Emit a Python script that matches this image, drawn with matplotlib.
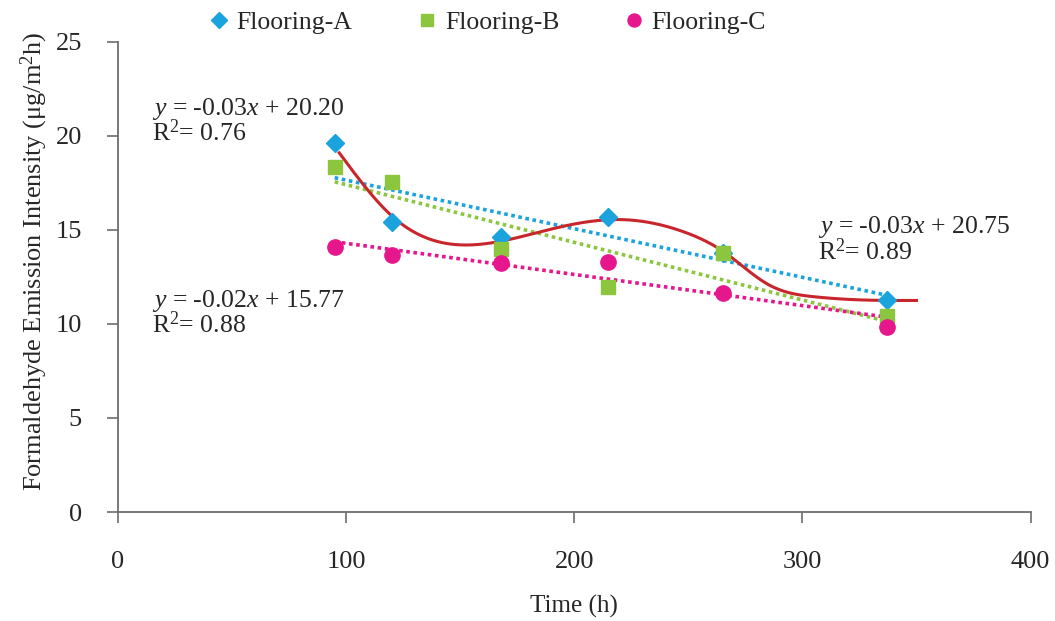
import numpy as np
import matplotlib
matplotlib.use("Agg")
import matplotlib.pyplot as plt

plt.rcParams['font.family'] = ['Liberation Serif', 'DejaVu Serif']
plt.rcParams['mathtext.fontset'] = 'custom'
plt.rcParams['mathtext.rm'] = 'Liberation Serif'
plt.rcParams['mathtext.it'] = 'Liberation Serif:italic'

# ---- data ----
time_h = [95, 120, 168, 215, 265, 337]
flooring_a = [19.6, 15.4, 14.6, 15.7, 13.8, 11.3]
flooring_b = [18.35, 17.55, 14.0, 11.95, 13.8, 10.4]
flooring_c = [14.1, 13.65, 13.25, 13.3, 11.65, 9.85]
series_names = ['Flooring-A', 'Flooring-B', 'Flooring-C']
# points (Flooring-A)
curve_x = [97, 120, 153, 190, 221, 248, 266, 285, 305, 328, 350]
curve_y = [19.1, 15.75, 14.2, 15.05, 15.55, 14.9, 13.8, 12.1, 11.45, 11.27, 11.25]
eq_labels = [r'$\mathit{y}$ = -0.03$\mathit{x}$ + 20.20' + '\n' + r'R$^2$= 0.76',
             r'$\mathit{y}$ = -0.02$\mathit{x}$ + 15.77' + '\n' + r'R$^2$= 0.88',
             r'$\mathit{y}$ = -0.03$\mathit{x}$ + 20.75' + '\n' + r'R$^2$= 0.89']
x_ticks = [0, 100, 200, 300, 400]
y_ticks = [0, 5, 10, 15, 20, 25]

colors = ['#1aa3dc', '#8cc63f', '#e6168c']
markers = ['D', 's', 'o']
msizes = [9.5, 10, 11]
curve_color = '#c8262c'


def natural_spline(xk, yk, xs):
    xk = np.asarray(xk, float); yk = np.asarray(yk, float)
    n = len(xk)
    h = np.diff(xk)
    A = np.zeros((n, n)); r = np.zeros(n)
    A[0, 0] = A[-1, -1] = 1
    for i in range(1, n - 1):
        A[i, i - 1] = h[i - 1]
        A[i, i] = 2 * (h[i - 1] + h[i])
        A[i, i + 1] = h[i]
        r[i] = 3 * ((yk[i + 1] - yk[i]) / h[i] - (yk[i] - yk[i - 1]) / h[i - 1])
    c = np.linalg.solve(A, r)
    b = (yk[1:] - yk[:-1]) / h - h * (2 * c[:-1] + c[1:]) / 3
    d = (c[1:] - c[:-1]) / (3 * h)
    idx = np.clip(np.searchsorted(xk, xs) - 1, 0, n - 2)
    dx = xs - xk[idx]
    return yk[idx] + b[idx] * dx + c[idx] * dx ** 2 + d[idx] * dx ** 3


fig = plt.figure(figsize=(10.55, 6.21), dpi=100)
ax = fig.add_axes([0.1118, 0.1755, 0.865, 0.757])

x = np.array(time_h, dtype=float)
series = [flooring_a, flooring_b, flooring_c]
handles = []
for ys, c in zip(series, colors):
    ys = np.array(ys)
    k, b = np.polyfit(x, ys, 1)
    xx = np.array([x.min(), x.max()])
    ax.plot(xx, k * xx + b, linestyle=(0, (1, 1)), color=c, lw=2.6, zorder=2)
for ys, c, m, ms, name in zip(series, colors, markers, msizes, series_names):
    h, = ax.plot(x, ys, linestyle='none', marker=m, color=c, markersize=ms,
                 markeredgecolor=c, zorder=4, label=name)
    handles.append(h)

xc = np.linspace(curve_x[0], curve_x[-1], 400)
ax.plot(xc, natural_spline(curve_x, curve_y, xc), color=curve_color, lw=2.2, zorder=3)

ax.set_xlim(0, 400)
ax.set_ylim(0, 25)
ax.set_xticks(x_ticks)
ax.set_yticks(y_ticks)
for s in ['top', 'right']:
    ax.spines[s].set_visible(False)
for s in ['left', 'bottom']:
    ax.spines[s].set_color('#6d6d6d')
    ax.spines[s].set_linewidth(1.3)
ax.tick_params(axis='both', direction='out', length=8, width=1.2, color='#6d6d6d',
               labelsize=19, labelcolor='#262626')
ax.tick_params(axis='x', pad=20)
ax.tick_params(axis='y', pad=18)

ax.set_xlabel('Time (h)', fontsize=18, color='#262626', labelpad=16)
fig.text(0.033, 0.58, 'Formaldehyde Emission Intensity (μg/m$^2$h)', rotation=90,
         fontsize=19, color='#262626', ha='center', va='center')

ax.text(15, 20.8, eq_labels[0], fontsize=18.5, color='#262626', va='center', linespacing=0.9)
ax.text(15, 10.6, eq_labels[1], fontsize=18.5, color='#262626', va='center', linespacing=0.9)
ax.text(307, 14.5, eq_labels[2], fontsize=18.5, color='#262626', va='center', linespacing=0.9)

fig.legend(handles=handles, loc='center', bbox_to_anchor=(0.463, 0.963), ncol=3,
           frameon=False, fontsize=18.5, handlelength=0.6, handletextpad=0.4,
           columnspacing=2.6, markerscale=0.85)
for t in fig.legends[0].get_texts():
    t.set_color('#262626')

fig.savefig('out.png', dpi=100)
